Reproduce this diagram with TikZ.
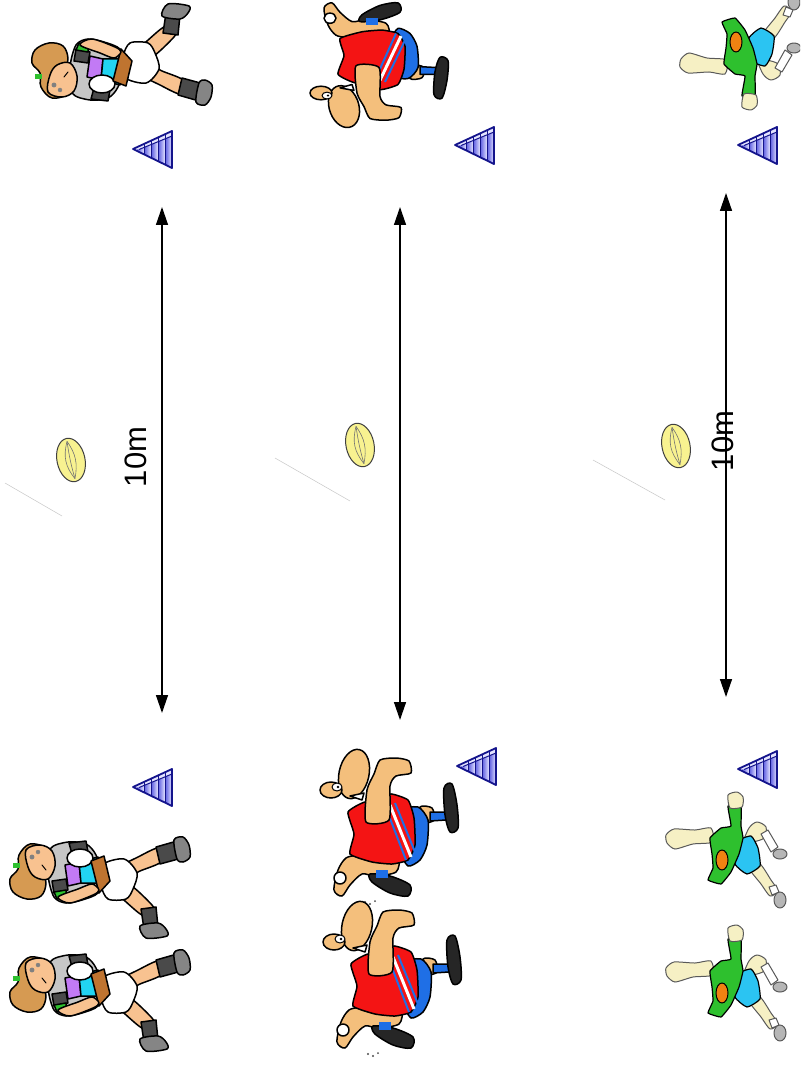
\documentclass[tikz,border=0pt]{standalone}
\usepackage{fontspec}
\setmainfont{Liberation Sans}
\usetikzlibrary{arrows.meta,shapes.geometric}
\definecolor{skinw}{HTML}{F8C290}
\definecolor{skinr}{HTML}{F4BF7C}
\definecolor{hair}{HTML}{D69A52}
\definecolor{jersey}{HTML}{C6C6C6}
\definecolor{pad}{HTML}{4A4A4A}
\definecolor{boot}{HTML}{858585}
\definecolor{purp}{HTML}{C27AF5}
\definecolor{cyanj}{HTML}{22D4F2}
\definecolor{brownb}{HTML}{BF7430}
\definecolor{greenj}{HTML}{2EC02E}
\definecolor{shirtred}{HTML}{F41414}
\definecolor{shortblue}{HTML}{1F6FE6}
\definecolor{pale}{HTML}{F6F0C4}
\definecolor{shortcyan}{HTML}{2BC4F2}
\definecolor{ballorange}{HTML}{F08212}
\definecolor{navy}{HTML}{14148C}
\definecolor{conemid}{HTML}{5A5AE0}
\definecolor{conelight}{HTML}{E4E4FF}
\definecolor{ballyellow}{HTML}{F8F290}
\tikzset{
  ink/.style={draw=black,line width=1.5pt,line join=round,line cap=round},
  softink/.style={draw=black!65,line width=1pt,line join=round},
  measure/.style={line width=1.4pt,{Triangle[length=18pt,width=12pt]}-{Triangle[length=18pt,width=12pt]}},
  distlabel/.style={rotate=90,inner sep=0pt,font=\fontsize{31}{31}\selectfont},
  faint/.style={draw=black!22,line width=0.5pt},
  ballshape/.style={ellipse,draw=black!75,line width=1pt,fill=ballyellow,minimum width=28pt,minimum height=44pt,inner sep=0pt,transform shape},
  % training cone, pointing left
  cone/.pic={
    \path[fill=conelight] (0,18) -- (39,0) -- (39,37) -- cycle;
    \begin{scope}
      \clip (0,18) -- (39,0) -- (39,37) -- cycle;
      \foreach \s in {4,11,18,25,32}{
        \shade[left color=conemid,right color=conelight] (\s,0) rectangle (\s+7,40);
      }
      \fill[conelight] (0,18) -- (39,0) -- (39,5) -- (6,18.5) -- cycle;
      \foreach \s in {11,18,25,32}{
        \draw[navy,line width=0.8pt] (\s,0) -- (\s,40);
      }
    \end{scope}
    \draw[navy,line width=1pt] (6,18.5) -- (39,5);
    \draw[navy,line width=1.8pt,line join=round] (0,18) -- (39,0) -- (39,37) -- cycle;
  },
  % rugby ball with seams
  ball/.pic={
    \node[ballshape] (-shape) {};
    \draw[black!55,line width=0.6pt] (0,-19) .. controls (-7,-5) and (-7,5) .. (0,19);
    \draw[black!55,line width=0.6pt] (0,-19) .. controls (-1,-5) and (-1,5) .. (0,19);
    \draw[black!55,line width=0.6pt] (0,-19) .. controls (6,-5) and (6,5) .. (0,19);
  },
  % player in the hooped jersey
  woman/.pic={
    \filldraw[ink,fill=skinw] plot[smooth cycle,tension=0.4] coordinates {(116,32) (138,20) (158,11) (161,25) (140,34) (124,42)};
    \filldraw[ink,fill=pad] (156,10) -- (177,4) -- (182,21) -- (160,27) -- cycle;
    \filldraw[ink,fill=boot] plot[smooth cycle,tension=0.5] coordinates {(174,3) (183,0) (189,8) (190,20) (183,25) (177,22)};
    \filldraw[ink,fill=skinw] plot[smooth cycle,tension=0.4] coordinates {(112,52) (130,48) (152,68) (155,76) (142,78) (125,64)};
    \filldraw[ink,fill=pad] (141,72) -- (156,70) -- (158,90) -- (144,92) -- cycle;
    \filldraw[ink,fill=boot] plot[smooth cycle,tension=0.5] coordinates {(140,89) (158,86) (166,92) (167,99) (146,101)};
    \filldraw[ink,fill=white] plot[smooth cycle,tension=0.5] coordinates {(102,28) (124,22) (137,36) (133,52) (126,62) (108,62) (101,48)};
    \filldraw[ink,fill=jersey] plot[smooth cycle,tension=0.5] coordinates {(50,12) (68,5) (86,7) (96,18) (102,40) (98,56) (82,63) (66,66) (54,60) (48,38)};
    \filldraw[ink,fill=pad] (69,6) -- (86,4) -- (88,15) -- (72,17) -- cycle;
    \filldraw[ink,fill=pad] (52,44) -- (66,42) -- (68,53) -- (54,56) -- cycle;
    \filldraw[ink,fill=greenj] (54,55) -- (66,53) -- (66,60) -- (57,62) -- cycle;
    \filldraw[ink,fill=purp] (65,28) -- (79,25) -- (81,46) -- (68,49) -- cycle;
    \filldraw[ink,fill=cyanj] (79,25) -- (98,20) -- (101,46) -- (81,46) -- cycle;
    \filldraw[ink,fill=white] (80,21) ellipse (13 and 9);
    \filldraw[ink,fill=brownb] (91,24) -- (104,19) -- (110,44) -- (99,56) -- cycle;
    \filldraw[ink,fill=skinw] plot[smooth cycle,tension=0.5] coordinates {(58,60) (78,52) (92,47) (99,53) (93,58) (70,66)};
    \filldraw[ink,fill=hair] plot[smooth cycle,tension=0.6] coordinates {(30,7) (46,12) (42,30) (46,46) (41,59) (27,62) (13,55) (10,42) (18,32) (19,18)};
    \fill[greenj] (13,26) rectangle (20,31);
    \filldraw[ink,fill=skinw] plot[smooth cycle,tension=0.6] coordinates {(26,13) (40,8) (52,14) (55,29) (48,42) (35,40) (28,30)};
    \filldraw[black!50] (32,20) circle (2.2);
    \filldraw[black!50] (38,15) circle (2);
    \draw[ink,line width=1pt] (42,28) -- (46,33);
  },
  % player in the red shirt
  redman/.pic={
    \filldraw[ink,fill=skinr] plot[smooth cycle,tension=0.5] coordinates {(38,105) (60,100) (78,108) (76,122) (55,126) (42,124) (30,135) (22,146) (14,140) (18,120) (26,108)};
    \filldraw[ink,fill=white] (20,128) circle (6);
    \filldraw[ink,fill=black!85] plot[smooth cycle,tension=0.5] coordinates {(50,124) (70,126) (90,135) (88,146) (70,143) (52,132)};
    \fill[shortblue] (56,120) rectangle (68,128);
    \filldraw[ink,fill=skinr] plot[smooth cycle,tension=0.5] coordinates {(100,57) (112,58) (114,70) (104,72)};
    \filldraw[ink,fill=shortblue] (110,62) -- (126,62) -- (126,70) -- (110,71) -- cycle;
    \filldraw[ink,fill=black!85] plot[smooth cycle,tension=0.5] coordinates {(124,38) (132,34) (137,55) (138,78) (130,82) (125,65)};
    \filldraw[ink,fill=shortblue] plot[smooth cycle,tension=0.4] coordinates {(78,62) (98,57) (108,70) (107,95) (100,110) (88,116) (80,100)};
    \filldraw[ink,fill=shirtred] plot[smooth cycle,tension=0.3] coordinates {(28,62) (45,52) (60,58) (70,44) (88,50) (94,68) (95,95) (88,110) (72,114) (52,112) (30,104) (34,84)};
    \draw[white,line width=3pt] (70,55) -- (91,107);
    \draw[shortblue,line width=2pt] (66,58) -- (86,110);
    \draw[shortblue,line width=2pt] (75,53) -- (95,102);
    \filldraw[ink,fill=skinr] plot[smooth cycle,tension=0.4] coordinates {(46,72) (47,40) (54,24) (60,10) (76,8) (89,11) (91,23) (76,26) (70,36) (69,70)};
    \filldraw[ink,fill=skinr,rotate around={-12:(34,24)}] (34,24) ellipse (15 and 25);
    \filldraw[ink,fill=white] (30,46) -- (44,43) -- (42,50) -- cycle;
    \filldraw[ink,fill=skinr] (11,40) ellipse (11 and 8);
    \filldraw[ink,line width=1pt,fill=white] (17,37) ellipse (5 and 4);
    \fill (18,37) circle (1.3);
    \fill[black!70] (45,152) circle (1.2) (50,154) circle (1.2) (55,151) circle (1);
  },
  % player in the green shirt
  greenman/.pic={
    \filldraw[softink,fill=pale] plot[smooth cycle,tension=0.4] coordinates {(84,76) (95,72) (106,88) (113,99) (105,104) (96,92)};
    \filldraw[softink,fill=white] (104,95) -- (111,93) -- (114,100) -- (107,103) -- cycle;
    \filldraw[softink,fill=boot!60] (115,108) ellipse (6 and 8);
    \filldraw[softink,fill=pale] plot[smooth cycle,tension=0.5] coordinates {(78,52) (84,36) (92,30) (101,35) (99,46) (88,50)};
    \filldraw[softink,fill=white] (96,42) -- (103,38) -- (113,55) -- (106,60) -- cycle;
    \filldraw[softink,fill=boot!60] (115,62) ellipse (7 and 5);
    \filldraw[ink,line width=1.2pt,fill=shortcyan] plot[smooth cycle,tension=0.3] coordinates {(71,50) (86,44) (93,56) (95,74) (82,82) (70,72)};
    \filldraw[softink,fill=pale] plot[smooth cycle,tension=0.4] coordinates {(1,43) (9,37) (30,38) (46,36) (48,50) (28,52) (10,57) (2,51)};
    \filldraw[ink,line width=1.2pt,fill=greenj] plot[smooth cycle,tension=0.2] coordinates {(63,14) (76,14) (76,34) (78,46) (74,62) (66,80) (56,92) (43,88) (48,76) (47,62) (45,46) (56,36) (66,34)};
    \filldraw[ink,line width=1pt,fill=ballorange] (57,68) ellipse (6 and 10);
    \filldraw[softink,fill=pale] plot[smooth cycle,tension=0.4] coordinates {(63,3) (72,0) (78,5) (77,15) (65,16)};
  }
}
\begin{document}
\begin{tikzpicture}[x=1pt,y=-1pt]
\useasboundingbox (0,0) rectangle (800,1067);
\fill[white] (0,0) rectangle (800,1067);

\begin{scope}
\clip (0,0) rectangle (800,1067);
% players, top row (facing down the field)
\pic[yscale=-1] at (22,105) {woman};
\pic[yscale=-0.85] at (310,127) {redman};
\pic[yscale=-1] at (679,110) {greenman};
% players, bottom rows
\pic at (0,837) {woman};
\pic at (0,950) {woman};
\pic at (320,750) {redman};
\pic at (323,902) {redman};
\pic at (665,792) {greenman};
\pic at (665,925) {greenman};
\end{scope}

% cones
\pic at (133,131) {cone};
\pic at (455,127) {cone};
\pic at (738,127) {cone};
\pic at (133,769) {cone};
\pic at (457,748) {cone};
\pic at (738,751) {cone};

% 10 m distances
\coordinate (m1t) at (162,207);
\coordinate (m1b) at (162,713);
\coordinate (m2t) at (400,207);
\coordinate (m2b) at (400,720);
\coordinate (m3t) at (726,193);
\coordinate (m3b) at (726,697);
\draw[measure] (m1t) -- (m1b);
\draw[measure] (m2t) -- (m2b);
\draw[measure] (m3t) -- (m3b);
\node[distlabel] (d1) at (136,457) {10m};
\node[distlabel] (d3) at (723,441) {10m};

% balls and their faint guide lines
\pic[rotate=12] (b1) at (71,460) {ball};
\pic[rotate=12] (b2) at (360,445) {ball};
\pic[rotate=12] (b3) at (676,446) {ball};
\coordinate (g1a) at (5,483);
\coordinate (g1b) at (62,516);
\coordinate (g2a) at (275,458);
\coordinate (g2b) at (350,501);
\coordinate (g3a) at (593,460);
\coordinate (g3b) at (665,500);
\draw[faint] (g1a) -- (g1b);
\draw[faint] (g2a) -- (g2b);
\draw[faint] (g3a) -- (g3b);
\end{tikzpicture}
\end{document}
